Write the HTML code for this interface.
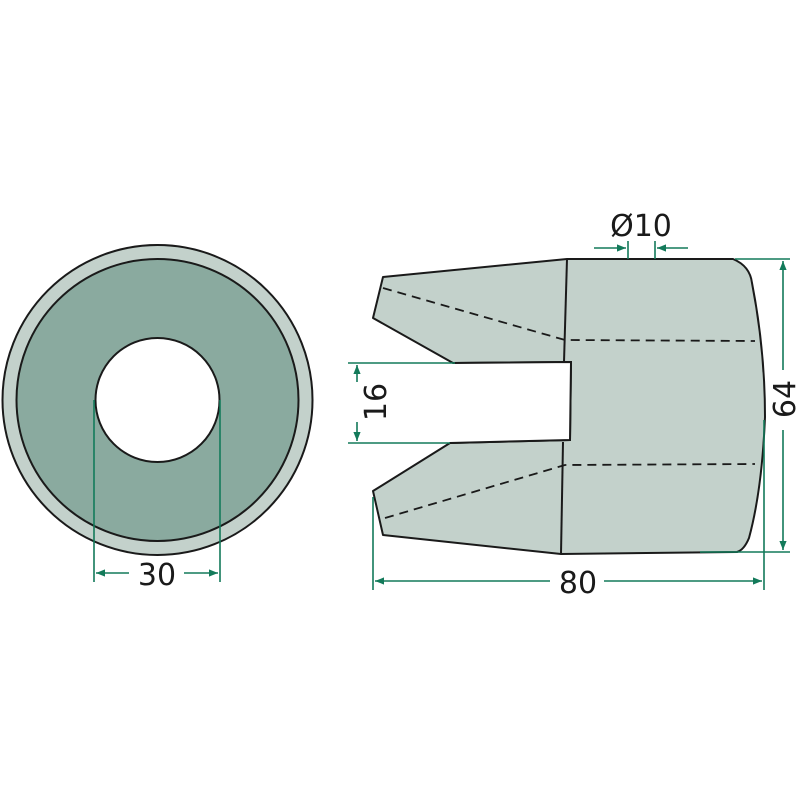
<!DOCTYPE html>
<html><head><meta charset="utf-8"><style>html,body{margin:0;padding:0;background:#fff}svg{display:block}</style></head>
<body>
<svg width="800" height="800" viewBox="0 0 800 800" xmlns="http://www.w3.org/2000/svg">
<defs>
<marker id="a" viewBox="0 0 10 10" refX="10" refY="5" markerWidth="12" markerHeight="9" markerUnits="userSpaceOnUse" orient="auto"><path d="M0,1 L10,5 L0,9 z" fill="#137a5a"/></marker>
</defs>
<circle cx="157.5" cy="400" r="155" fill="#c3d1cb" stroke="#1a1a1a" stroke-width="2"/>
<circle cx="157.5" cy="400" r="141" fill="#8aaa9f" stroke="#1a1a1a" stroke-width="2"/>
<circle cx="157.5" cy="400" r="62" fill="#fff" stroke="#1a1a1a" stroke-width="2"/>
<g stroke="#137a5a" stroke-width="1.6" fill="none">
<line x1="94" y1="400" x2="94" y2="582"/>
<line x1="220" y1="400" x2="220" y2="582"/>
<line x1="129" y1="573" x2="96" y2="573" marker-end="url(#a)"/>
<line x1="184" y1="573" x2="218" y2="573" marker-end="url(#a)"/>
</g>
<text x="157" y="585" font-family="DejaVu Sans, sans-serif" font-size="30" text-anchor="middle" fill="#1a1a1a">30</text>
<path d="M567,259 L733,259 Q750,266 752,283 Q765,350 765,417 Q762,490 749,538 Q744,550 737,552 L561,554 L383,535 L373,491 L450,443 L570,440 L571,362 L453,363 L373,318 L383,277 Z" fill="#c3d1cb" stroke="#1a1a1a" stroke-width="2" stroke-linejoin="round"/>
<path d="M453,363 L571,362 L570,440 L450,443" fill="#fff" stroke="#1a1a1a" stroke-width="2"/>
<line x1="567" y1="259" x2="564" y2="362" stroke="#1a1a1a" stroke-width="2"/>
<line x1="563" y1="442" x2="561" y2="554" stroke="#1a1a1a" stroke-width="2"/>
<g stroke="#1a1a1a" stroke-width="1.8" fill="none" stroke-dasharray="9,6">
<path d="M383,288 L565,340 L755,341"/>
<path d="M385,518 L565,465 L755,464"/>
</g>
<g stroke="#137a5a" stroke-width="1.6" fill="none">
<line x1="628" y1="241" x2="628" y2="259"/>
<line x1="655" y1="241" x2="655" y2="259"/>
<line x1="594" y1="248" x2="626" y2="248" marker-end="url(#a)"/>
<line x1="688" y1="248" x2="657" y2="248" marker-end="url(#a)"/>
<line x1="735" y1="259" x2="790" y2="259"/>
<line x1="700" y1="552" x2="790" y2="552"/>
<line x1="783" y1="370" x2="783" y2="261" marker-end="url(#a)"/>
<line x1="783" y1="430" x2="783" y2="550" marker-end="url(#a)"/>
<line x1="373" y1="497" x2="373" y2="590"/>
<line x1="764" y1="420" x2="764" y2="590"/>
<line x1="550" y1="581" x2="375" y2="581" marker-end="url(#a)"/>
<line x1="604" y1="581" x2="762" y2="581" marker-end="url(#a)"/>
<line x1="348" y1="363" x2="455" y2="363"/>
<line x1="348" y1="443" x2="450" y2="443"/>
<line x1="357" y1="382" x2="357" y2="365" marker-end="url(#a)"/>
<line x1="357" y1="422" x2="357" y2="441" marker-end="url(#a)"/>
</g>
<text x="641" y="236" font-family="DejaVu Sans, sans-serif" font-size="30" text-anchor="middle" fill="#1a1a1a">Ø10</text>
<text x="578" y="593" font-family="DejaVu Sans, sans-serif" font-size="30" text-anchor="middle" fill="#1a1a1a">80</text>
<text transform="translate(795,399) rotate(-90)" font-family="DejaVu Sans, sans-serif" font-size="30" text-anchor="middle" fill="#1a1a1a">64</text>
<text transform="translate(386,402) rotate(-90)" font-family="DejaVu Sans, sans-serif" font-size="30" text-anchor="middle" fill="#1a1a1a">16</text>
</svg>
</body></html>
